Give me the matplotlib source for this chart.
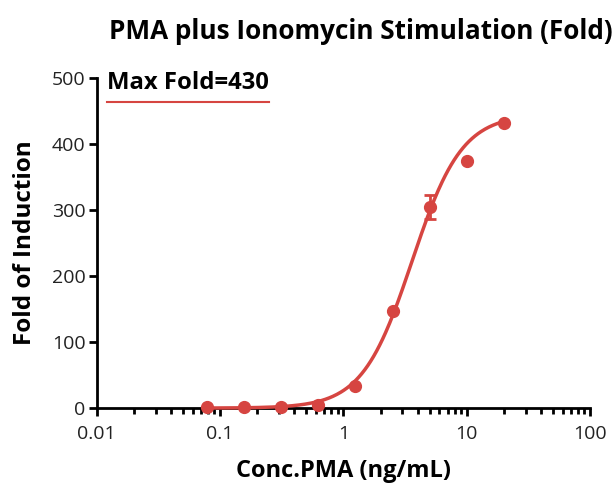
import numpy as np
import matplotlib
matplotlib.use("Agg")
import matplotlib.pyplot as plt
from matplotlib.ticker import LogLocator, FixedLocator, NullFormatter

plt.rcParams['font.family'] = ['Open Sans', 'DejaVu Sans']

conc = [0.078, 0.156, 0.3125, 0.625, 1.25, 2.5, 5, 10, 20]
fold = [2, 2, 2, 4, 33, 147, 305, 374, 432]
err = [0, 0, 0, 0, 0, 0, 18, 0, 0]

# 4PL fit parameters
fit_bottom, fit_top, fit_ec50, fit_hill = 0.0, 445.0, 3.6, 2.15

xticks = [0.01, 0.1, 1, 10, 100]
xticklabels = ['0.01', '0.1', '1', '10', '100']
yticks = [0, 100, 200, 300, 400, 500]

red = '#d64541'

fig = plt.figure(figsize=(6.16, 4.87), dpi=100)
ax = fig.add_axes([0.157, 0.162, 0.801, 0.678])

xf = np.logspace(np.log10(conc[0]), np.log10(conc[-1]), 300)
yf = fit_bottom + (fit_top - fit_bottom) / (1 + (fit_ec50 / xf) ** fit_hill)
ax.plot(xf, yf, color=red, lw=2.5, zorder=3, clip_on=False)
ax.errorbar(conc, fold, yerr=err, fmt='o', color=red, ms=8.5, capsize=4,
            elinewidth=2, capthick=2, zorder=4, clip_on=False)

ax.set_xscale('log')
ax.set_xlim(0.01, 100)
ax.set_ylim(0, 500)
ax.xaxis.set_major_locator(FixedLocator(xticks))
ax.set_xticklabels(xticklabels)
ax.xaxis.set_minor_locator(LogLocator(base=10, subs=np.arange(2, 10)))
ax.xaxis.set_minor_formatter(NullFormatter())
ax.set_yticks(yticks)

for s in ['top', 'right']:
    ax.spines[s].set_visible(False)
for s in ['left', 'bottom']:
    ax.spines[s].set_linewidth(2)
ax.tick_params(axis='both', which='major', direction='out', length=6, width=2,
               labelsize=14, colors='black', labelcolor='#222222')
ax.tick_params(axis='x', which='minor', direction='out', length=4, width=2)
ax.tick_params(axis='x', pad=6)
ax.tick_params(axis='y', pad=2)

ax.set_xlabel('Conc.PMA (ng/mL)', fontsize=17, fontweight='bold', labelpad=12)
ax.set_ylabel('Fold of Induction', fontsize=17.5, fontweight='bold', labelpad=11)
fig.text(0.585, 0.935, 'PMA plus Ionomycin Stimulation (Fold)', ha='center',
         va='center', fontsize=18.8, fontweight='bold')

ax.text(0.02, 0.985, 'Max Fold=430', transform=ax.transAxes, ha='left',
        va='center', fontsize=17.2, fontweight='bold')
ax.plot([0.02, 0.35], [0.927, 0.927], transform=ax.transAxes, color=red, lw=1.5)

fig.savefig('out.png', dpi=100)
